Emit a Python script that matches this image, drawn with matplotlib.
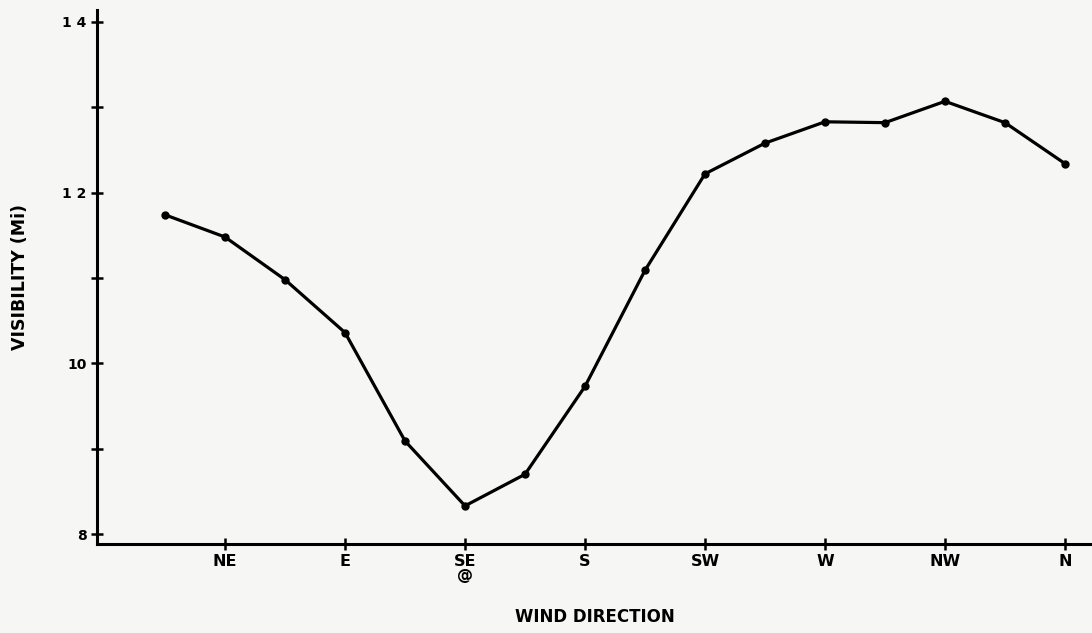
import numpy as np
import matplotlib
matplotlib.use("Agg")
import matplotlib.pyplot as plt

# wind direction sectors (major ticks) and the half-step points of the curve
directions = ["NE", "E", "SE\n@", "S", "SW", "W", "NW", "N"]
dir_pos = [1, 2, 3, 4, 5, 6, 7, 8]
point_pos = [0.5, 1, 1.5, 2, 2.5, 3, 3.5, 4, 4.5, 5, 5.5, 6, 6.5, 7, 7.5, 8]
visibility = [11.74, 11.48, 10.98, 10.36, 9.09, 8.33, 8.70, 9.73,
              11.09, 12.22, 12.58, 12.83, 12.82, 13.07, 12.82, 12.34]
ytick_vals = [8, 10, 12, 14]
ytick_text = ["8", "10", "1 2", "1 4"]

bg = "#f6f6f4"
plt.rcParams["font.family"] = ["DejaVu Sans"]

fig = plt.figure(figsize=(10.92, 6.33), dpi=100, facecolor=bg)
ax = fig.add_axes([97 / 1092, 1 - 544 / 633, 1 - 97 / 1092, (544 - 10) / 633])
ax.set_facecolor(bg)

ax.plot(point_pos, visibility, color="black", lw=2.3, marker="o", ms=5,
        solid_joinstyle="round")

ax.set_xlim(-0.067, 8.225)
ax.set_ylim(7.883, 14.14)

for s in ["top", "right"]:
    ax.spines[s].set_visible(False)
for s in ["left", "bottom"]:
    ax.spines[s].set_linewidth(2.2)
    ax.spines[s].set_color("black")

ax.set_xticks(dir_pos)
ax.set_xticklabels(directions, fontsize=11.5, fontweight="bold",
                   linespacing=0.9)
ax.set_yticks(ytick_vals)
ax.set_yticklabels(ytick_text, fontsize=10, fontweight="bold")
ax.set_yticks([9, 11, 13], minor=True)
ax.tick_params(axis="both", which="both", direction="inout", length=9,
               width=1.8, color="black")
ax.tick_params(axis="x", pad=3)
ax.tick_params(axis="y", pad=3)

ax.set_xlabel("WIND DIRECTION", fontsize=12, fontweight="bold", labelpad=18)
ax.set_ylabel("VISIBILITY (Mi)", fontsize=12.5, fontweight="bold", labelpad=24)

fig.savefig("out.png", dpi=100, facecolor=bg)
